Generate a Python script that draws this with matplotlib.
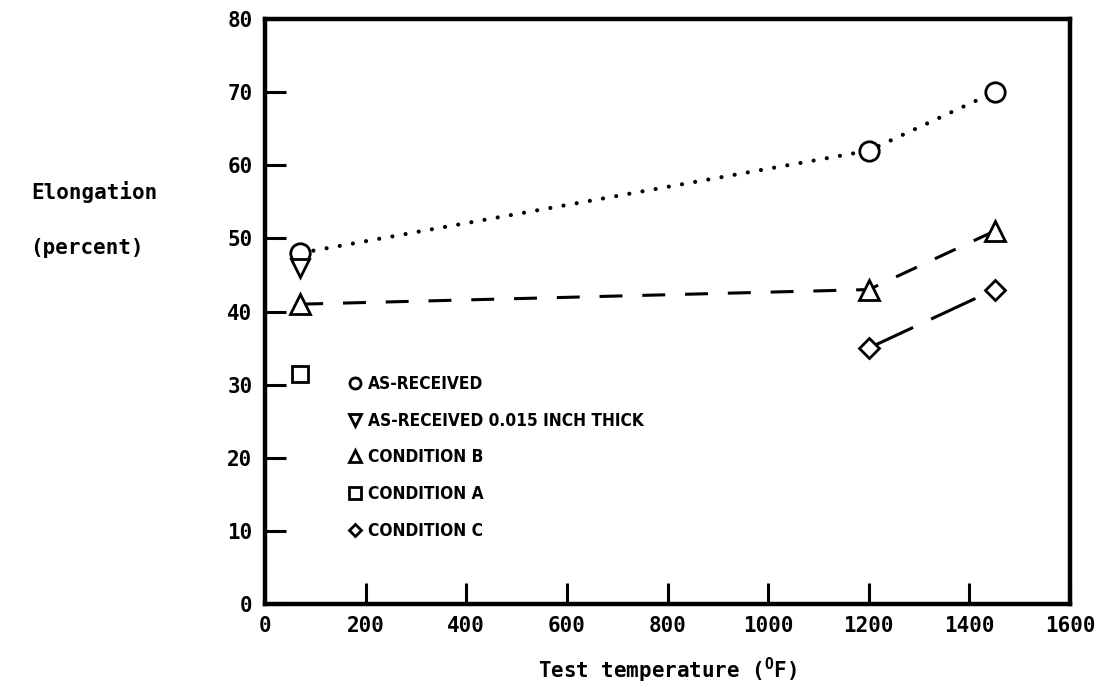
import matplotlib
matplotlib.use("Agg")
import matplotlib.pyplot as plt
from matplotlib.lines import Line2D

# Data (temperature in F, elongation in percent)
as_received_temp = [70, 1200, 1450]
as_received_elong = [48, 62, 70]

thin_temp = [70]
thin_elong = [46]

cond_b_temp = [70, 1200, 1450]
cond_b_elong = [41, 43, 51]

cond_a_temp = [70]
cond_a_elong = [31.5]

cond_c_temp = [1200, 1450]
cond_c_elong = [35, 43]

x_ticks = [0, 200, 400, 600, 800, 1000, 1200, 1400, 1600]
y_ticks = [0, 10, 20, 30, 40, 50, 60, 70, 80]

legend_labels = ["AS-RECEIVED", "AS-RECEIVED 0.015 INCH THICK",
                 "CONDITION B", "CONDITION A", "CONDITION C"]

mono = ["DejaVu Sans Mono"]

fig = plt.figure(figsize=(11.06, 6.92), dpi=100)
ax = fig.add_axes([265 / 1106, 1 - 604 / 692, (1070 - 265) / 1106, (604 - 19) / 692])

mk = dict(color="black", markerfacecolor="white", markeredgewidth=2.0, zorder=3)

ax.plot(as_received_temp, as_received_elong, marker="o", markersize=14,
        linestyle=(0, (0.01, 3.2)), dash_capstyle="round", lw=3.0, **mk)
ax.plot(thin_temp, thin_elong, marker="v", markersize=13, linestyle="none", **mk)
ax.plot(cond_b_temp, cond_b_elong, marker="^", markersize=14,
        linestyle=(0, (7.5, 6.5)), lw=2.2, **mk)
ax.plot(cond_a_temp, cond_a_elong, marker="s", markersize=12, linestyle="none", **mk)
ax.plot(cond_c_temp, cond_c_elong, marker="D", markersize=10,
        linestyle=(0, (16, 6.5)), lw=2.2, **mk)

ax.set_xlim(0, 1600)
ax.set_ylim(0, 80)
ax.set_xticks(x_ticks)
ax.set_yticks(y_ticks)

for s in ax.spines.values():
    s.set_linewidth(3.2)
ax.tick_params(direction="in", length=15, width=2.2, top=False, right=False,
               labelsize=15, pad=9)
for lab in ax.get_xticklabels() + ax.get_yticklabels():
    lab.set_fontfamily(mono)
    lab.set_fontweight("bold")

ax.set_xlabel("Test temperature ($^{\\mathregular{O}}$F)", fontsize=15,
              fontfamily=mono, fontweight="bold", labelpad=14)
fig.text(94 / 1106, 1 - 192 / 692, "Elongation", fontsize=15, fontfamily=mono,
         fontweight="bold", ha="center", va="center")
fig.text(87 / 1106, 1 - 248 / 692, "(percent)", fontsize=15, fontfamily=mono,
         fontweight="bold", ha="center", va="center")

handles = [
    Line2D([], [], marker="o", markersize=8, **mk, linestyle="none"),
    Line2D([], [], marker="v", markersize=8, **mk, linestyle="none"),
    Line2D([], [], marker="^", markersize=8, **mk, linestyle="none"),
    Line2D([], [], marker="s", markersize=8, **mk, linestyle="none"),
    Line2D([], [], marker="D", markersize=6.5, **mk, linestyle="none"),
]
leg = ax.legend(handles, legend_labels, loc="upper left",
                bbox_to_anchor=(340 / 1106, 1 - 366 / 692),
                bbox_transform=fig.transFigure, frameon=False,
                handlelength=0.7, handletextpad=0.4, labelspacing=1.1,
                borderpad=0,
                prop=dict(family="DejaVu Sans", stretch="condensed",
                          weight="bold", size=12.4))

fig.savefig("out.png", dpi=100)
